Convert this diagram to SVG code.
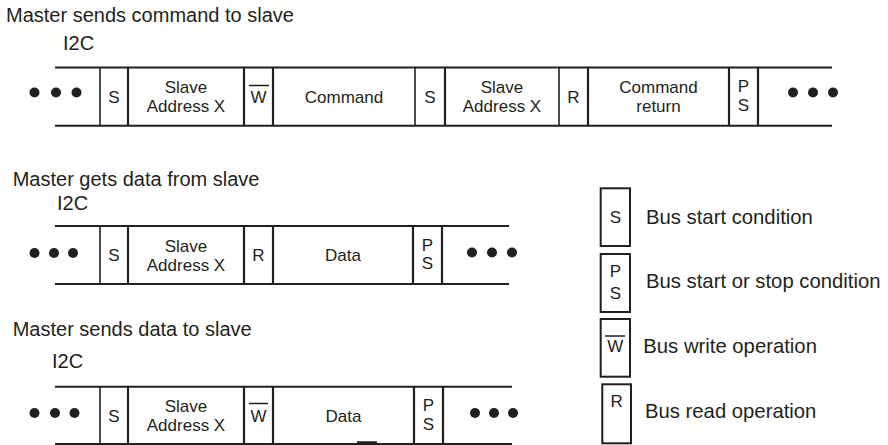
<svg xmlns="http://www.w3.org/2000/svg" width="888" height="445" viewBox="0 0 888 445">
<style>
.t{font-family:"Liberation Sans",Arial,sans-serif;font-size:20px;fill:#231f20}
.lg{font-family:"Liberation Sans",Arial,sans-serif;font-size:20.3px;fill:#231f20}
.c{font-family:"Liberation Sans",Arial,sans-serif;font-size:17px;fill:#231f20;text-anchor:middle}
.h{stroke:#231f20;stroke-width:2;fill:none}
.v{stroke:#231f20;stroke-width:2.2;fill:none}
.vt{stroke:#231f20;stroke-width:1.6;fill:none}
.o{stroke:#231f20;stroke-width:1.5;fill:none}
.box{stroke:#231f20;stroke-width:2;fill:none}
.d{fill:#231f20}
</style>
<rect width="888" height="445" fill="#ffffff"/>

<!-- Titles -->
<g id="titles">
<text class="t" x="6" y="22">Master sends command to slave</text>
<text class="t" x="63" y="50">I2C</text>
<text class="t" x="12.7" y="186">Master gets data from slave</text>
<text class="t" x="57" y="210">I2C</text>
<text class="t" x="12.7" y="336">Master sends data to slave</text>
<text class="t" x="52" y="368">I2C</text>
</g>

<!-- Bus lines (connectors) -->
<g id="connectors">
<line class="h" x1="55" y1="67.5" x2="832" y2="67.5"/>
<line class="h" x1="55" y1="125.7" x2="832" y2="125.7"/>
<line class="h" x1="55" y1="226" x2="509" y2="226"/>
<line class="h" x1="55" y1="284" x2="509" y2="284"/>
<line class="h" x1="55" y1="386.7" x2="512" y2="386.7"/>
<line class="h" x1="55" y1="444" x2="512" y2="444"/>
<line stroke="#231f20" stroke-width="2.5" x1="357" y1="442.5" x2="377" y2="442.5"/>
</g>

<!-- Row 1 -->
<g id="row1">
<g id="r1-dots-left"><circle class="d" cx="34.5" cy="92.5" r="5"/><circle class="d" cx="56" cy="92.5" r="5"/><circle class="d" cx="76.5" cy="92.5" r="5"/></g>
<g id="r1-s1"><line class="vt" x1="100" y1="67.5" x2="100" y2="125.7"/><text class="c" x="114" y="102.7">S</text></g>
<g id="r1-addr1"><line class="v" x1="128" y1="67.5" x2="128" y2="125.7"/><text class="c" x="186" y="93.3">Slave</text><text class="c" x="186" y="112.3">Address X</text></g>
<g id="r1-w"><line class="v" x1="244" y1="67.5" x2="244" y2="125.7"/><text class="c" x="258.5" y="102.7">W</text><line class="o" x1="249" y1="85.5" x2="269" y2="85.5"/></g>
<g id="r1-cmd"><line class="v" x1="273" y1="67.5" x2="273" y2="125.7"/><text class="c" x="344" y="102.7">Command</text></g>
<g id="r1-s2"><line class="vt" x1="415" y1="67.5" x2="415" y2="125.7"/><text class="c" x="430" y="102.7">S</text></g>
<g id="r1-addr2"><line class="v" x1="445" y1="67.5" x2="445" y2="125.7"/><text class="c" x="502" y="93.3">Slave</text><text class="c" x="502" y="112.3">Address X</text></g>
<g id="r1-r"><line class="vt" x1="559" y1="67.5" x2="559" y2="125.7"/><text class="c" x="573.5" y="102.7">R</text></g>
<g id="r1-ret"><line class="v" x1="588" y1="67.5" x2="588" y2="125.7"/><text class="c" x="658.5" y="92.5">Command</text><text class="c" x="658.5" y="111.7">return</text></g>
<g id="r1-ps"><line class="v" x1="729" y1="67.5" x2="729" y2="125.7"/><text class="c" x="743.5" y="92.3">P</text><text class="c" x="743.5" y="110.5">S</text><line class="v" x1="758" y1="67.5" x2="758" y2="125.7"/></g>
<g id="r1-dots-right"><circle class="d" cx="793" cy="92.5" r="5"/><circle class="d" cx="813" cy="92.5" r="5"/><circle class="d" cx="833" cy="92.5" r="5"/></g>
</g>

<!-- Row 2 -->
<g id="row2">
<g id="r2-dots-left"><circle class="d" cx="34.5" cy="253" r="5"/><circle class="d" cx="54" cy="253" r="5"/><circle class="d" cx="73" cy="253" r="5"/></g>
<g id="r2-s"><line class="vt" x1="100" y1="226" x2="100" y2="284"/><text class="c" x="114" y="261">S</text></g>
<g id="r2-addr"><line class="v" x1="128" y1="226" x2="128" y2="284"/><text class="c" x="186" y="251.7">Slave</text><text class="c" x="186" y="270.7">Address X</text></g>
<g id="r2-r"><line class="v" x1="244" y1="226" x2="244" y2="284"/><text class="c" x="258.5" y="261">R</text></g>
<g id="r2-data"><line class="v" x1="273" y1="226" x2="273" y2="284"/><text class="c" x="343" y="261">Data</text></g>
<g id="r2-ps"><line class="v" x1="413" y1="226" x2="413" y2="284"/><text class="c" x="427.5" y="250.7">P</text><text class="c" x="427.5" y="269">S</text><line class="v" x1="442" y1="226" x2="442" y2="284"/></g>
<g id="r2-dots-right"><circle class="d" cx="472" cy="252.5" r="5"/><circle class="d" cx="492" cy="252.5" r="5"/><circle class="d" cx="512" cy="252.5" r="5"/></g>
</g>

<!-- Row 3 -->
<g id="row3">
<g id="r3-dots-left"><circle class="d" cx="34.5" cy="413" r="5"/><circle class="d" cx="55" cy="413" r="5"/><circle class="d" cx="74.5" cy="413" r="5"/></g>
<g id="r3-s"><line class="vt" x1="100" y1="386.7" x2="100" y2="444"/><text class="c" x="114" y="421.5">S</text></g>
<g id="r3-addr"><line class="v" x1="128" y1="386.7" x2="128" y2="444"/><text class="c" x="186" y="412">Slave</text><text class="c" x="186" y="431">Address X</text></g>
<g id="r3-w"><line class="v" x1="244" y1="386.7" x2="244" y2="444"/><text class="c" x="258.5" y="421.5">W</text><line class="o" x1="249" y1="403.5" x2="268" y2="403.5"/></g>
<g id="r3-data"><line class="v" x1="273" y1="386.7" x2="273" y2="444"/><text class="c" x="343.5" y="421.5">Data</text></g>
<g id="r3-ps"><line class="v" x1="414" y1="386.7" x2="414" y2="444"/><text class="c" x="428.5" y="411">P</text><text class="c" x="428.5" y="429.5">S</text><line class="v" x1="443" y1="386.7" x2="443" y2="444"/></g>
<g id="r3-dots-right"><circle class="d" cx="475" cy="413" r="5"/><circle class="d" cx="494" cy="413" r="5"/><circle class="d" cx="513" cy="413" r="5"/></g>
</g>

<!-- Legend -->
<g id="legend-s">
<rect class="box" x="600.7" y="188.3" width="29.3" height="57.7"/>
<text class="c" x="615.3" y="223.3">S</text>
<text class="lg" x="646" y="224.3">Bus start condition</text>
</g>
<g id="legend-ps">
<rect class="box" x="600.7" y="254" width="29.3" height="58"/>
<text class="c" x="615.3" y="277.3">P</text>
<text class="c" x="615.3" y="299.3">S</text>
<text class="lg" x="646" y="288.3">Bus start or stop condition</text>
</g>
<g id="legend-w">
<rect class="box" x="600.7" y="319" width="29.3" height="57.7"/>
<text class="c" x="615.3" y="351.7">W</text>
<line class="o" x1="605" y1="336" x2="625" y2="336"/>
<text class="lg" x="643.3" y="353.3">Bus write operation</text>
</g>
<g id="legend-r">
<rect class="box" x="602.3" y="384.3" width="28.7" height="59"/>
<text class="c" x="616.7" y="406.7">R</text>
<text class="lg" x="645" y="418.3">Bus read operation</text>
</g>
</svg>
